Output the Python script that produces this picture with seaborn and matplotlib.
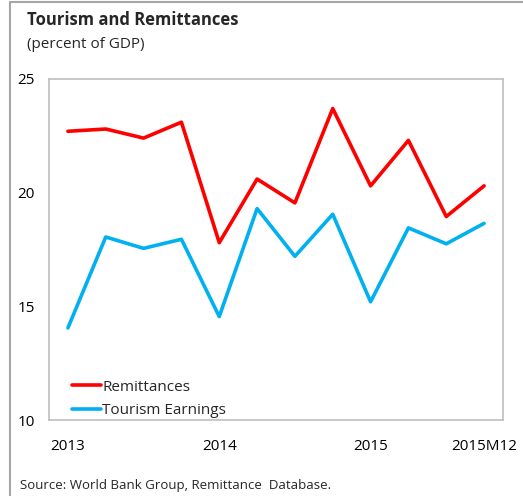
import pandas as pd
import matplotlib.pyplot as plt
import seaborn as sns
from matplotlib.lines import Line2D

quarters = ["2013Q1", "2013Q2", "2013Q3", "2013Q4", "2014Q1", "2014Q2",
            "2014Q3", "2014Q4", "2015Q1", "2015Q2", "2015Q3", "2015Q4"]
remittances = [22.7, 22.8, 22.4, 23.1, 17.8, 20.6, 19.55, 23.7, 20.3, 22.3, 18.95, 20.3]
tourism = [14.05, 18.05, 17.55, 17.95, 14.55, 19.3, 17.2, 19.05, 15.2, 18.45, 17.75, 18.65]
tick_pos = [0, 4, 8, 11]
tick_labels = ["2013", "2014", "2015", "2015M12"]

df = pd.DataFrame({"idx": list(range(len(quarters))) * 2,
                   "value": remittances + tourism,
                   "series": ["Remittances"] * len(quarters) + ["Tourism Earnings"] * len(quarters)})

sns.set_style("white")
plt.rcParams['font.family'] = ['Open Sans', 'DejaVu Sans']

fig = plt.figure(figsize=(5.23, 4.96), dpi=100)
ax = fig.add_axes([49 / 523, 76 / 496, 454 / 523, 341 / 496])

sns.lineplot(data=df, x="idx", y="value", hue="series",
             palette={"Remittances": "#FF0000", "Tourism Earnings": "#00B0F0"},
             linewidth=2.6, ax=ax)

ax.set_xlim(-0.5, 11.5)
ax.set_ylim(10, 25)
ax.set_yticks([10, 15, 20, 25])
ax.set_xticks(tick_pos)
ax.set_xticklabels(tick_labels)
ax.tick_params(axis="both", length=0, labelsize=11, colors="#000000")
ax.tick_params(axis="x", pad=14)
ax.tick_params(axis="y", pad=10)
ax.set_xlabel("")
ax.set_ylabel("")
for s in ax.spines.values():
    s.set_color("#BFBFBF")
    s.set_linewidth(1.2)

leg = ax.legend(loc="lower left", bbox_to_anchor=(0.02, -0.035), frameon=False,
                fontsize=11, handlelength=1.9, handletextpad=0.1, labelspacing=0.55)
for h in leg.get_lines():
    h.set_linewidth(2.6)

fig.text(27 / 523, 1 - 20 / 496, "Tourism and Remittances", fontsize=12,
         fontweight="bold", va="center", ha="left")
fig.text(27 / 523, 1 - 45 / 496, "(percent of GDP)", fontsize=11,
         va="center", ha="left")
fig.text(20 / 523, 1 - 486 / 496, "Source: World Bank Group, Remittance  Database.",
         fontsize=9.5, va="center", ha="left")

fig.add_artist(Line2D([10 / 523, 1], [1 - 2 / 496, 1 - 2 / 496], color="#A6A6A6", lw=1.5))
fig.add_artist(Line2D([10 / 523, 10 / 523], [0, 1 - 2 / 496], color="#A6A6A6", lw=1.5))

fig.savefig("out.png", dpi=100)
